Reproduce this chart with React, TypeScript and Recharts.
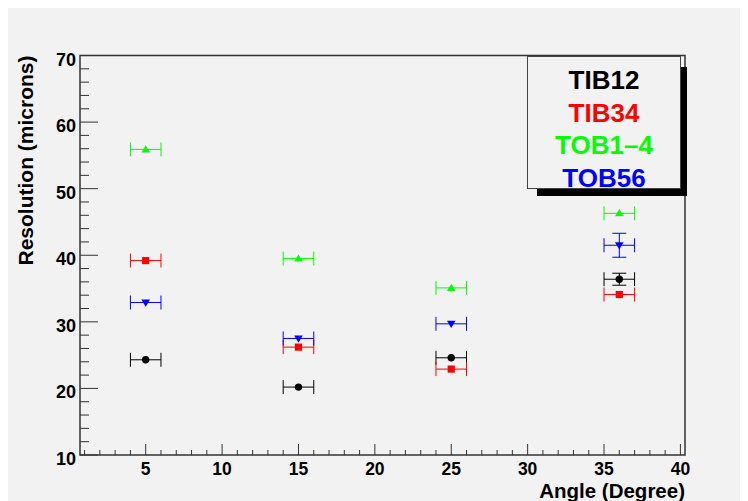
import React from 'react';
import { ScatterChart, Scatter, XAxis, YAxis, ErrorBar, ReferenceArea, Legend } from 'recharts';

// ---- data ----
const angles = [5, 15, 25, 36];
const angleErr = [1, 1, 1, 1];
const tib12 = [24.3, 20.2, 24.6, 36.4];
const tib12Err = [0, 0, 0, 0.9];
const tib34 = [39.2, 26.2, 22.9, 34.1];
const tib34Err = [0, 0, 0, 0];
const tob14 = [55.9, 39.5, 35.1, 46.3];
const tob14Err = [0, 0, 0, 0];
const tob56 = [32.9, 27.5, 29.7, 41.5];
const tob56Err = [0, 0, 0, 1.8];
const seriesNames = ['TIB12', 'TIB34', 'TOB1\u20134', 'TOB56'];
const seriesColors = ['#000000', '#ff0000', '#00ff00', '#0000ff'];
const xMajorLabels = [5, 10, 15, 20, 25, 30, 35, 40];
const yMajorLabels = [10, 20, 30, 40, 50, 60, 70];
const xTicks = Array.from({ length: 40 }, (_, i) => i + 1);
const yTicks = Array.from({ length: 31 }, (_, i) => 10 + i * 2);

const X_DOMAIN: [number, number] = [0.7, 40.3];
const Y_DOMAIN: [number, number] = [10, 70];

const W = 740;
const H = 493;
const Y_AXIS_W = 60;
const X_AXIS_H = 40;
const M = { top: 47.5, right: 63, bottom: 46 - X_AXIS_H, left: 72 - Y_AXIS_W };
const PLOT_LEFT = 72;
const PLOT_BOTTOM = H - 46;
const FONT = '"Liberation Sans", Arial, Helvetica, sans-serif';

const build = (ys: number[], errs: number[]) =>
  angles.map((a, i) => ({ x: a, y: ys[i], ex: angleErr[i], ey: errs[i] }));

const series = [
  { name: seriesNames[0], color: seriesColors[0], data: build(tib12, tib12Err), marker: 'circle' },
  { name: seriesNames[1], color: seriesColors[1], data: build(tib34, tib34Err), marker: 'square' },
  { name: seriesNames[2], color: seriesColors[2], data: build(tob14, tob14Err), marker: 'up' },
  { name: seriesNames[3], color: seriesColors[3], data: build(tob56, tob56Err), marker: 'down' },
];

const makeShape = (marker: string, color: string) => (props: any) => {
  const { cx, cy } = props;
  if (cx == null || cy == null) return <g />;
  if (marker === 'circle') return <circle cx={cx} cy={cy} r={3.7} fill={color} />;
  if (marker === 'square') return <rect x={cx - 3.6} y={cy - 3.6} width={7.2} height={7.2} fill={color} />;
  if (marker === 'up')
    return <polygon points={`${cx},${cy - 4.2} ${cx - 4.3},${cy + 3} ${cx + 4.3},${cy + 3}`} fill={color} />;
  return <polygon points={`${cx - 4.3},${cy - 3} ${cx + 4.3},${cy - 3} ${cx},${cy + 4.2}`} fill={color} />;
};

const XTick = (props: any) => {
  const { x, payload } = props;
  const v = payload.value;
  const major = xMajorLabels.includes(v);
  return (
    <g>
      <line x1={x} x2={x} y1={PLOT_BOTTOM} y2={PLOT_BOTTOM - (major ? 11 : 5)} stroke="#333" strokeWidth={1} />
      {major && (
        <text x={x} y={PLOT_BOTTOM + 20} textAnchor="middle" fontFamily={FONT} fontWeight="bold" fontSize={17.5} fill="#000">
          {v}
        </text>
      )}
    </g>
  );
};

const YTick = (props: any) => {
  const { y, payload } = props;
  const v = payload.value;
  const major = yMajorLabels.includes(v);
  return (
    <g>
      <line x1={PLOT_LEFT} x2={PLOT_LEFT + (major ? 18 : 9)} y1={y} y2={y} stroke="#333" strokeWidth={1} />
      {major && (
        <text x={PLOT_LEFT - 4} y={y + 10} textAnchor="end" fontFamily={FONT} fontWeight="bold" fontSize={18} fill="#000">
          {v}
        </text>
      )}
    </g>
  );
};

const YTitle = () => {
  const x = PLOT_LEFT - 47;
  const y = M.top;
  return (
    <text x={x} y={y} transform={`rotate(-90, ${x}, ${y})`} textAnchor="end" fontFamily={FONT} fontWeight="bold" fontSize={21} fill="#000">
      Resolution (microns)
    </text>
  );
};

const XTitle = () => {
  const x = W - M.right;
  const y = PLOT_BOTTOM + 43;
  return (
    <text x={x} y={y} textAnchor="end" fontFamily={FONT} fontWeight="bold" fontSize={20.5} fill="#000">
      Angle (Degree)
    </text>
  );
};

const LegendBox = () => (
  <div
    style={{
      width: 154,
      height: 133,
      boxSizing: 'border-box',
      border: '1px solid #444',
      background: '#f2f2f2',
      boxShadow: '8px 9px 0 -2px #000',
      paddingTop: 7,
      textAlign: 'center',
      fontFamily: FONT,
      fontWeight: 'bold',
      fontSize: 26,
      lineHeight: '32.5px',
    }}
  >
    {series.map((s) => (
      <div key={s.name} style={{ color: s.color }}>
        {s.name}
      </div>
    ))}
  </div>
);

export default function App() {
  return (
    <div style={{ width: W, height: H, background: '#f2f2f2', position: 'relative' }}>
      <ScatterChart width={W} height={H} margin={M}>
        <XAxis
          type="number"
          dataKey="x"
          domain={X_DOMAIN}
          ticks={xTicks}
          interval={0}
          height={X_AXIS_H}
          axisLine={false}
          tickLine={false}
          tick={(p: any) => <XTick {...p} />}
          allowDataOverflow
          label={{ content: () => <XTitle /> }}
        />
        <YAxis
          type="number"
          dataKey="y"
          domain={Y_DOMAIN}
          ticks={yTicks}
          interval={0}
          width={Y_AXIS_W}
          axisLine={false}
          tickLine={false}
          tick={(p: any) => <YTick {...p} />}
          allowDataOverflow
          label={{ content: () => <YTitle /> }}
        />
        <ReferenceArea
          x1={X_DOMAIN[0]}
          x2={X_DOMAIN[1]}
          y1={Y_DOMAIN[0]}
          y2={Y_DOMAIN[1]}
          fill="none"
          fillOpacity={0}
          stroke="#333"
          strokeWidth={1.5}
        />
        {series.map((s) => (
          <Scatter
            key={s.name}
            name={s.name}
            data={s.data}
            fill={s.color}
            isAnimationActive={false}
            shape={makeShape(s.marker, s.color)}
          >
            <ErrorBar dataKey="ex" direction="x" width={7} stroke={s.color} strokeWidth={1} />
            <ErrorBar dataKey="ey" direction="y" width={7} stroke={s.color} strokeWidth={1} />
          </Scatter>
        ))}
        <Legend
          layout="horizontal"
          verticalAlign="middle"
          align="center"
          wrapperStyle={{ position: 'absolute', left: 519, top: 48, width: 154, height: 133 }}
          content={() => <LegendBox />}
        />
      </ScatterChart>
    </div>
  );
}
